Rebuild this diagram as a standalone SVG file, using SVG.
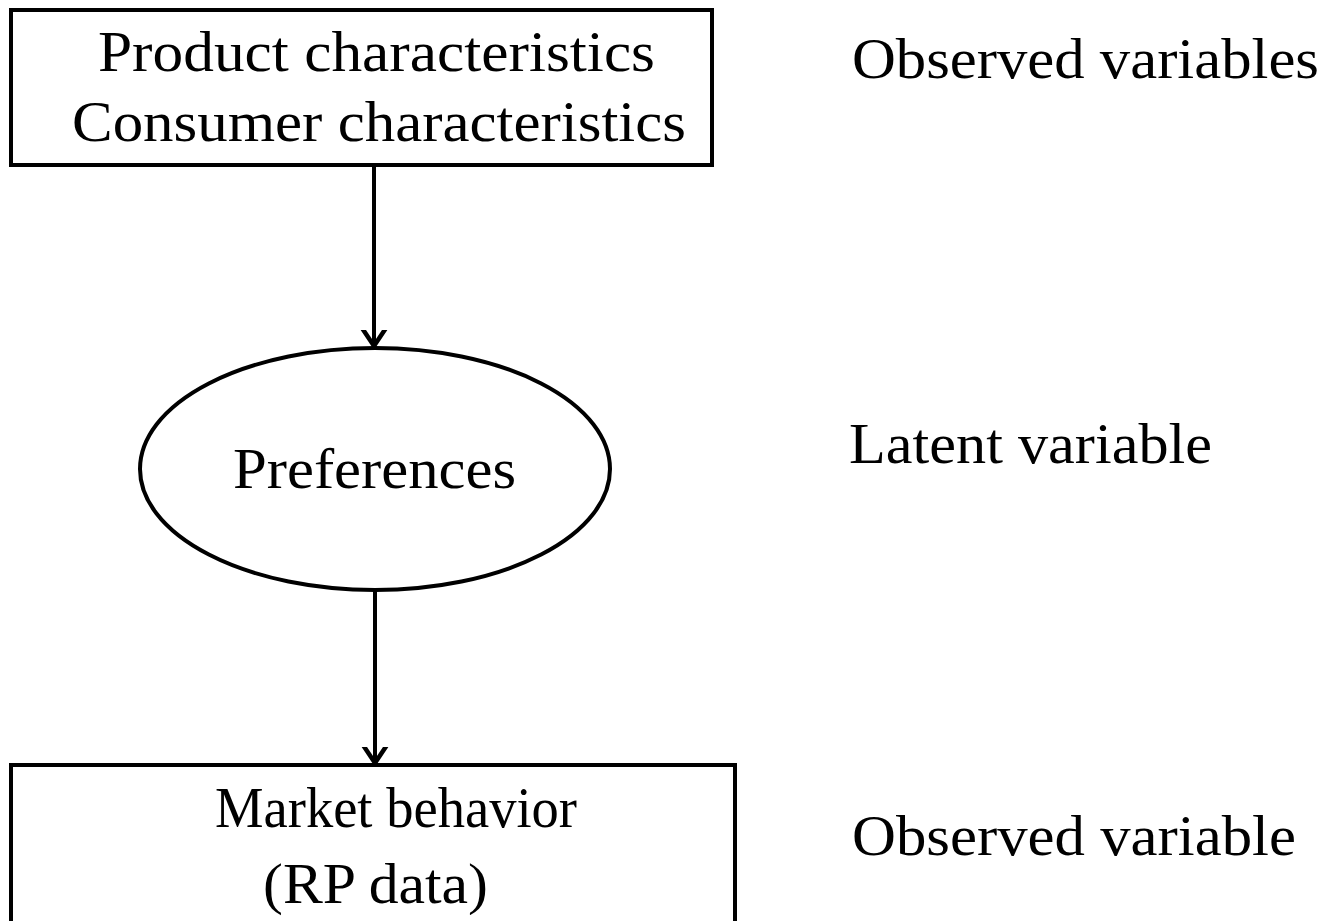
<svg xmlns="http://www.w3.org/2000/svg" width="1326" height="921" viewBox="0 0 1326 921">
  <style>
    .box { fill: #ffffff; stroke: #000000; stroke-width: 4; }
    .lbl { font-family: "Liberation Serif", "DejaVu Serif", serif; font-size: 57px; fill: #000000; }
    .edge { fill: none; stroke: #000000; stroke-width: 4; }
  </style>
  <defs>
    <marker id="arrow" markerUnits="userSpaceOnUse" markerWidth="32" markerHeight="32" viewBox="-16 -16 32 32" refX="0" refY="0" orient="auto">
      <polyline points="-18,-12 0,0 -18,12" fill="none" stroke="#000000" stroke-width="4.5" stroke-linecap="round" stroke-linejoin="miter"/>
    </marker>
  </defs>
  <rect width="1326" height="921" fill="#ffffff"/>

  <g id="connectors">
    <path class="edge" d="M374,165 L374,346" marker-end="url(#arrow)"/>
    <path class="edge" d="M375,590 L375,763" marker-end="url(#arrow)"/>
  </g>

  <g id="node-characteristics">
    <rect class="box" x="11" y="10" width="701" height="155"/>
    <text class="lbl" x="98" y="71" textLength="557" lengthAdjust="spacingAndGlyphs">Product characteristics</text>
    <text class="lbl" x="72" y="141" textLength="614" lengthAdjust="spacingAndGlyphs">Consumer characteristics</text>
  </g>

  <g id="node-preferences">
    <ellipse class="box" cx="375" cy="469" rx="235" ry="121"/>
    <text class="lbl" x="233" y="488" textLength="283" lengthAdjust="spacingAndGlyphs">Preferences</text>
  </g>

  <g id="node-market">
    <rect class="box" x="11" y="765" width="724" height="180"/>
    <text class="lbl" x="215" y="827" textLength="362" lengthAdjust="spacingAndGlyphs">Market behavior</text>
    <text class="lbl" x="263" y="903" textLength="225" lengthAdjust="spacingAndGlyphs">(RP data)</text>
  </g>

  <g id="side-labels">
    <text class="lbl" x="852" y="78" textLength="467" lengthAdjust="spacingAndGlyphs">Observed variables</text>
    <text class="lbl" x="849" y="463" textLength="363" lengthAdjust="spacingAndGlyphs">Latent variable</text>
    <text class="lbl" x="852" y="855" textLength="444" lengthAdjust="spacingAndGlyphs">Observed variable</text>
  </g>
</svg>
